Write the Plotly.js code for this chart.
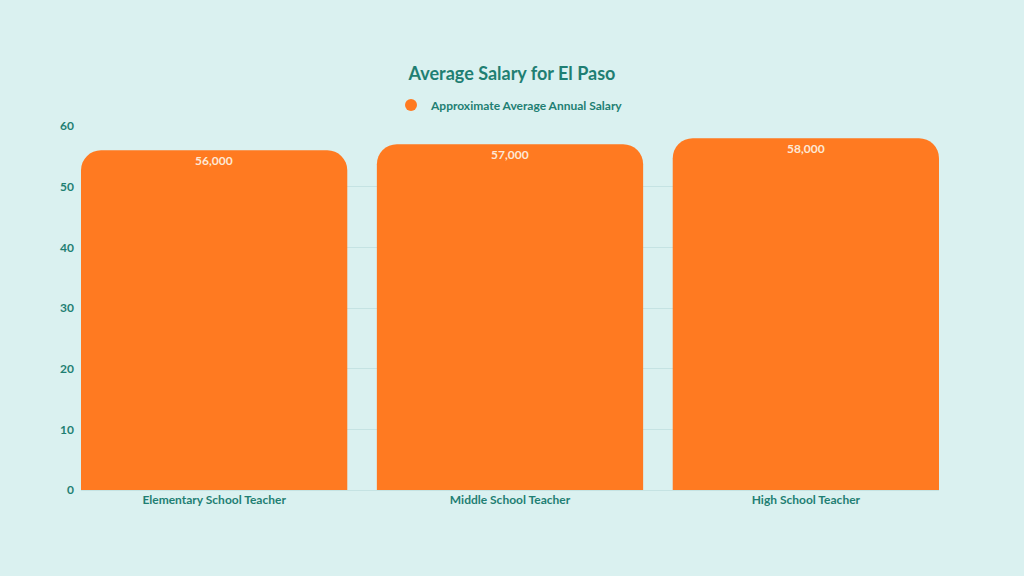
<!DOCTYPE html>
<html>
<head>
<meta charset="utf-8">
<script src="https://cdn.plot.ly/plotly-3.0.1.min.js"></script>
<style>
  html, body { margin: 0; padding: 0; background: #daf1f0; }
  #myChart { width: 1024px; height: 576px; }
</style>
</head>
<body>
<div id="myChart"></div>
<script>
// salary by teacher level (thousands)
const categories = ["Elementary School Teacher", "Middle School Teacher", "High School Teacher"];
const salaries = [56, 57, 58];
const salaryLabels = ["56,000", "57,000", "58,000"];
const seriesName = "Approximate Average Annual Salary";

var teal = "#1f7f73";
var orange = "#ff7a21";

var bars = {
  x: categories,
  y: salaries,
  type: "bar",
  name: seriesName,
  showlegend: false,
  marker: { color: orange },
  hoverinfo: "x+y",
};

// legend entry only (round marker like the original)
var legendDot = {
  x: [null],
  y: [null],
  type: "scatter",
  mode: "markers",
  name: seriesName,
  marker: { color: orange, size: 13, symbol: "circle" },
};

// value labels sit just under the rounded top of each bar
var labels = categories.map(function (c, i) {
  return {
    x: c,
    y: salaries[i],
    text: "<b>" + salaryLabels[i] + "</b>",
    showarrow: false,
    yanchor: "top",
    yshift: -1,
    font: { family: "Lato", size: 12, color: "#fde8d6" },
  };
});

var layout = {
  width: 1024,
  height: 576,
  paper_bgcolor: "#daf1f0",
  plot_bgcolor: "#daf1f0",
  margin: { l: 81, r: 85, t: 126, b: 86 },
  bargap: 0.1,
  barcornerradius: 20,
  font: { family: "Lato", color: teal },
  annotations: labels,
  title: {
    text: "<b>Average Salary for El Paso</b>",
    font: { family: "Lato", size: 18, color: teal },
    x: 0.5,
    xanchor: "center",
    y: 0.872,
    yanchor: "middle",
  },
  legend: {
    orientation: "h",
    x: 0.5,
    xanchor: "center",
    y: 1.058,
    yanchor: "middle",
    font: { family: "Lato", size: 12, color: teal, weight: "bold" },
    itemsizing: "constant",
    itemwidth: 30,
  },
  xaxis: {
    range: [-0.45, 2.45],
    showgrid: false,
    showline: false,
    zeroline: false,
    ticks: "",
    ticklabelstandoff: 1,
    tickfont: { family: "Lato", size: 12, color: teal, weight: "bold" },
  },
  yaxis: {
    range: [0, 60],
    dtick: 10,
    gridcolor: "#c5e3e3",
    zeroline: true,
    zerolinecolor: "#c5e3e3",
    ticks: "",
    ticklabelstandoff: 6,
    tickfont: { family: "Lato", size: 12, color: teal, weight: "bold" },
  },
};

Plotly.newPlot("myChart", [bars, legendDot], layout, { displayModeBar: false });
</script>
</body>
</html>
